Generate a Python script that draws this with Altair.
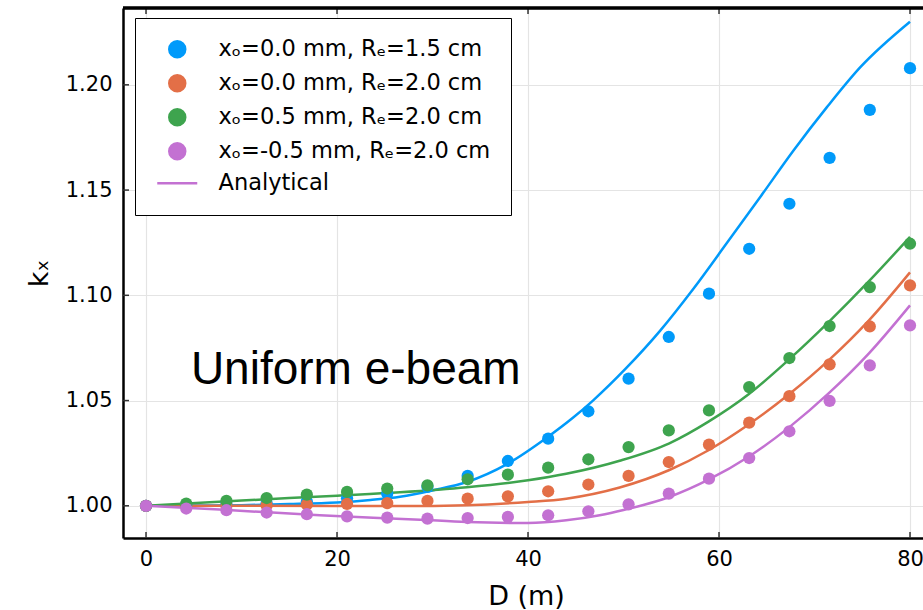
import altair as alt
import pandas as pd

# ---- data -------------------------------------------------------------
LABELS = [
    "xₒ=0.0 mm, Rₑ=1.5 cm",
    "xₒ=0.0 mm, Rₑ=2.0 cm",
    "xₒ=0.5 mm, Rₑ=2.0 cm",
    "xₒ=-0.5 mm, Rₑ=2.0 cm",
]
ANALYTICAL = "Analytical"
COLORS = ["#009AFA", "#E36F47", "#3EA44E", "#C371D2"]

# simulated points
D_SIM = [0.0, 4.21, 8.42, 12.63, 16.84, 21.05, 25.26, 29.47, 33.68, 37.89,
         42.11, 46.32, 50.53, 54.74, 58.95, 63.16, 67.37, 71.58, 75.79, 80.0]
K_SIM_1 = [1.0000, 1.0002, 1.0006, 1.0012, 1.0020, 1.0036, 1.0058, 1.0090, 1.0142, 1.0213,
           1.0319, 1.0449, 1.0604, 1.0802, 1.1008, 1.1221, 1.1435, 1.1653, 1.1881, 1.2079]
K_SIM_2 = [1.0000, 1.0000, 1.0001, 1.0003, 1.0006, 1.0009, 1.0013, 1.0023, 1.0034, 1.0045,
           1.0069, 1.0101, 1.0142, 1.0208, 1.0291, 1.0395, 1.0521, 1.0672, 1.0852, 1.1047]
K_SIM_3 = [1.0000, 1.0010, 1.0023, 1.0037, 1.0053, 1.0066, 1.0082, 1.0097, 1.0126, 1.0148,
           1.0181, 1.0221, 1.0279, 1.0358, 1.0453, 1.0564, 1.0702, 1.0854, 1.1039, 1.1245]
K_SIM_4 = [1.0000, 0.9987, 0.9979, 0.9968, 0.9960, 0.9950, 0.9944, 0.9939, 0.9942, 0.9947,
           0.9955, 0.9974, 1.0007, 1.0058, 1.0129, 1.0227, 1.0354, 1.0498, 1.0667, 1.0857]

# analytical curves
D_AN_1 = [0, 5, 10, 15, 20, 23.5, 26.6, 30.1, 33.6, 37.8, 42.1, 44.7, 46.8, 50.3,
          53.8, 57.3, 60.8, 64.3, 67.8, 71.3, 74.8, 80]
K_AN_1 = [1.0, 1.0001, 1.0003, 1.0008, 1.0016, 1.0028, 1.0043, 1.0074, 1.0113, 1.0198,
          1.0328, 1.0418, 1.0500, 1.0655, 1.0830, 1.1030, 1.1247, 1.1466, 1.1688,
          1.1894, 1.2084, 1.2300]
D_AN_2 = [0, 10, 20, 26.6, 33.6, 40, 44, 49.6, 54.8, 58.9, 63.1, 67.4, 71.5, 75.7, 80]
K_AN_2 = [1.0, 1.0, 0.9999, 0.9999, 1.0003, 1.0018, 1.0034, 1.0087, 1.0170, 1.0264,
          1.0386, 1.0532, 1.0692, 1.0881, 1.1109]
D_AN_3 = [0, 10, 20, 26.6, 33.6, 40, 44, 49.6, 54.8, 58.9, 63.1, 67.4, 71.5, 75.7, 80]
K_AN_3 = [1.0, 1.0025, 1.0048, 1.0064, 1.0088, 1.0121, 1.0152, 1.0214, 1.0297, 1.0400,
          1.0530, 1.0698, 1.0874, 1.1067, 1.1278]
D_AN_4 = [0, 7.7, 18.2, 28.7, 33.6, 40, 44, 47.5, 50, 54.8, 58.9, 63.1, 67.4, 71.5, 75.7, 80]
K_AN_4 = [1.0, 0.9982, 0.9955, 0.9934, 0.9923, 0.9918, 0.9931, 0.9955, 0.9980, 1.0042,
          1.0124, 1.0233, 1.0375, 1.0535, 1.0724, 1.0952]

ANNOTATION = {"D": [4.7], "k": [1.0577], "text": ["Uniform e-beam"]}

X_TICKS = [0, 20, 40, 60, 80]
Y_TICKS = [1.00, 1.05, 1.10, 1.15, 1.20]
X_DOMAIN = [-2.41, 81.36]
Y_DOMAIN = [0.9847, 1.2365]

W, H = 800, 530

# ---- tables -----------------------------------------------------------
sim = pd.concat([
    pd.DataFrame({"D": D_SIM, "k": ks, "series": lab, "order": i})
    for i, (ks, lab) in enumerate(zip([K_SIM_1, K_SIM_2, K_SIM_3, K_SIM_4], LABELS))
])
ana = pd.concat([
    pd.DataFrame({"D": ds, "k": ks, "series": lab, "order": i})
    for i, (ds, ks, lab) in enumerate(zip([D_AN_1, D_AN_2, D_AN_3, D_AN_4],
                                          [K_AN_1, K_AN_2, K_AN_3, K_AN_4], LABELS))
])
note = pd.DataFrame(ANNOTATION)
xticks = pd.DataFrame({"D": X_TICKS})
yticks = pd.DataFrame({"k": Y_TICKS})

# ---- styling ----------------------------------------------------------
FONT = "DejaVu Sans"
domain_all = LABELS + [ANALYTICAL]
xscale = alt.Scale(domain=X_DOMAIN, nice=False, zero=False)
yscale = alt.Scale(domain=Y_DOMAIN, nice=False, zero=False)
paint_scale = alt.Scale(domain=domain_all, range=COLORS + [COLORS[3]])
shape_scale = alt.Scale(domain=domain_all, range=["circle"] * 4 + ["M-2.5,0H2.5"])

legend = alt.Legend(
    title=None, orient="none", legendX=12, legendY=10,
    padding=20, strokeColor="black", fillColor="white",
    labelFont=FONT, labelFontSize=22.5, labelColor="black", labelLimit=400,
    symbolSize=256, symbolStrokeWidth=2.5, symbolOpacity=1,
    symbolOffset=11, labelOffset=30, rowPadding=7,
)

common_axis = dict(
    domainColor="black", domainWidth=2.5, ticks=False,
    gridColor="#e4e4e4", gridWidth=1.2,
    labelFont=FONT, labelFontSize=21, labelColor="black",
    titleFont=FONT, titleFontSize=27, titleColor="black", titleFontWeight="normal",
)

x_bottom = alt.Axis(
    orient="bottom", values=X_TICKS, grid=True, labelPadding=10,
    title="D (m)", titleX=403, titleY=66, titleBaseline="alphabetic",
    **common_axis,
)
y_left = alt.Axis(
    orient="left", values=Y_TICKS, format=".2f", grid=True, labelPadding=11,
    title="kₓ", titleX=-76, titleY=265, titleBaseline="alphabetic",
    **common_axis,
)

# ---- layers -----------------------------------------------------------
lines = alt.Chart(ana).mark_line(strokeWidth=2.5, interpolate="monotone").encode(
    x=alt.X("D:Q", scale=xscale, axis=x_bottom),
    y=alt.Y("k:Q", scale=yscale, axis=y_left),
    stroke=alt.Stroke("series:N", scale=paint_scale, legend=legend, sort=domain_all),
    detail="series:N",
    order="order:Q",
)

points = alt.Chart(sim).mark_point(filled=True, size=150, opacity=1, strokeWidth=0).encode(
    x=alt.X("D:Q", scale=xscale),
    y=alt.Y("k:Q", scale=yscale),
    fill=alt.Fill("series:N", scale=paint_scale, legend=legend, sort=domain_all),
    stroke=alt.Stroke("series:N", scale=paint_scale, legend=legend, sort=domain_all),
    shape=alt.Shape("series:N", scale=shape_scale, legend=legend, sort=domain_all),
    order="order:Q",
)

label = alt.Chart(note).mark_text(
    font="Liberation Sans", fontSize=46, align="left", baseline="alphabetic", color="black"
).encode(
    x=alt.X("D:Q", scale=xscale),
    y=alt.Y("k:Q", scale=yscale),
    text="text:N",
)

# frame on top edge and inward tick marks
top_edge = alt.Chart(xticks).mark_rule(color="black", strokeWidth=2.5).encode(
    x=alt.value(0), x2=alt.value(W), y=alt.value(0)
)
tick_style = dict(color="#333333", strokeWidth=1.5)
x_ticks_bottom = alt.Chart(xticks).mark_rule(**tick_style).encode(
    x=alt.X("D:Q", scale=xscale), y=alt.value(H), y2=alt.value(H - 6)
)
x_ticks_top = alt.Chart(xticks).mark_rule(**tick_style).encode(
    x=alt.X("D:Q", scale=xscale), y=alt.value(0), y2=alt.value(6)
)
y_ticks_left = alt.Chart(yticks).mark_rule(**tick_style).encode(
    y=alt.Y("k:Q", scale=yscale), x=alt.value(0), x2=alt.value(6)
)

chart = alt.layer(
    lines, points, label, x_ticks_bottom, x_ticks_top, y_ticks_left, top_edge
).properties(
    width=W, height=H,
    padding={"left": 123, "top": 8, "right": 0, "bottom": 72},
    autosize=alt.AutoSizeParams(type="none"),
    background="white",
).configure_view(stroke=None)

chart.save("out.html", embed_options={"renderer": "svg", "actions": False})
